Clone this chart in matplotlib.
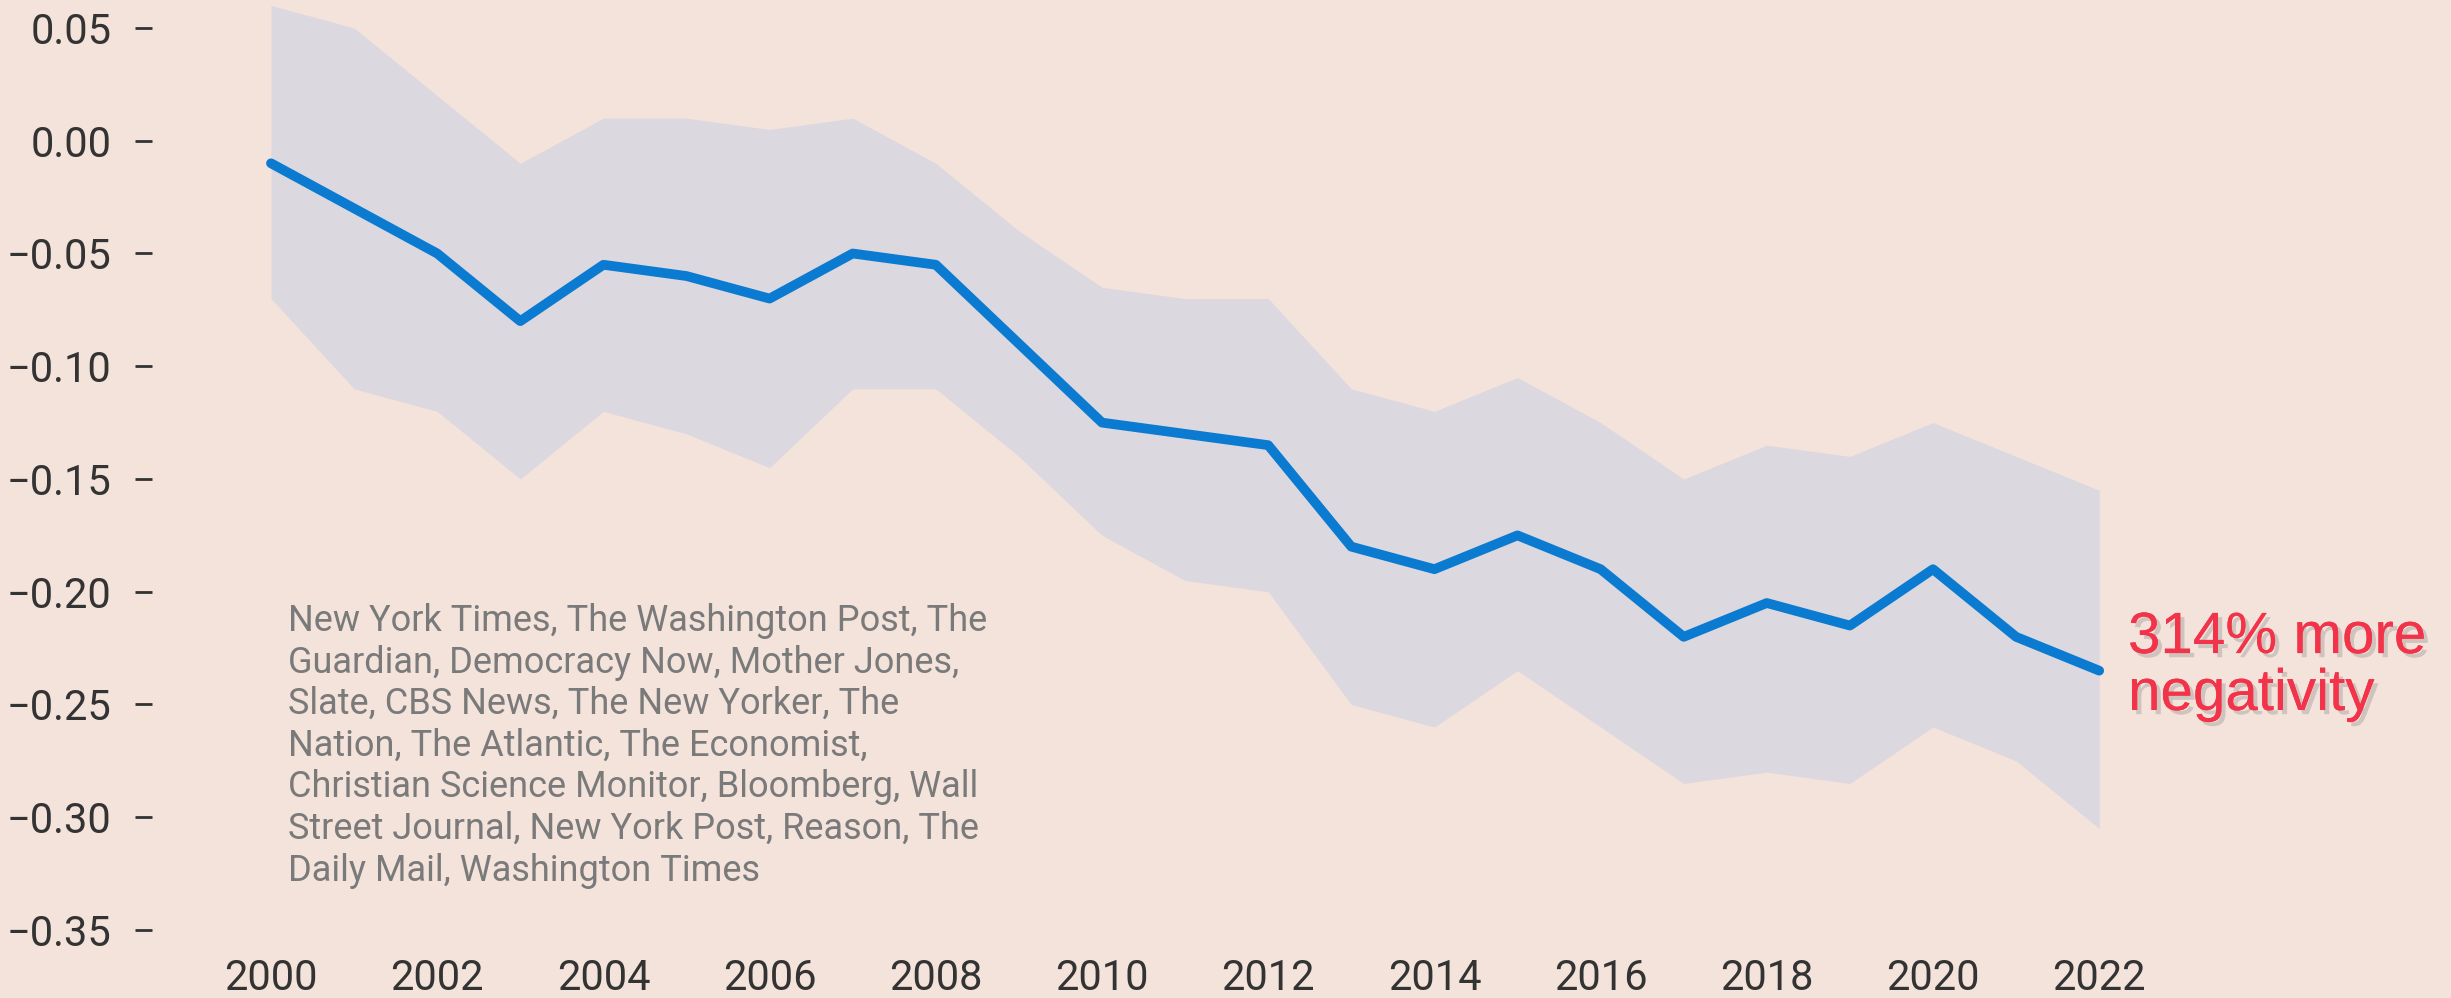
import matplotlib
matplotlib.use("Agg")
import matplotlib.pyplot as plt
import matplotlib.patheffects as pe

# yearly negativity score: mean and spread band
years = list(range(2000, 2023))
mean_score = [-0.01, -0.03, -0.05, -0.08, -0.055, -0.06, -0.07, -0.05, -0.055, -0.09,
              -0.125, -0.13, -0.135, -0.18, -0.19, -0.175, -0.19, -0.22, -0.205, -0.215,
              -0.19, -0.22, -0.235]
upper_band = [0.06, 0.05, 0.02, -0.01, 0.01, 0.01, 0.005, 0.01, -0.01, -0.04,
              -0.065, -0.07, -0.07, -0.11, -0.12, -0.105, -0.125, -0.15, -0.135, -0.14,
              -0.125, -0.14, -0.155]
lower_band = [-0.07, -0.11, -0.12, -0.15, -0.12, -0.13, -0.145, -0.11, -0.11, -0.14,
              -0.175, -0.195, -0.2, -0.25, -0.26, -0.235, -0.26, -0.285, -0.28, -0.285,
              -0.26, -0.275, -0.305]
y_ticks = [0.05, 0.0, -0.05, -0.10, -0.15, -0.20, -0.25, -0.30, -0.35]
x_ticks = list(range(2000, 2023, 2))

outlets = ("New York Times, The Washington Post, The\n"
           "Guardian, Democracy Now, Mother Jones,\n"
           "Slate, CBS News, The New Yorker, The\n"
           "Nation, The Atlantic, The Economist,\n"
           "Christian Science Monitor, Bloomberg, Wall\n"
           "Street Journal, New York Post, Reason, The\n"
           "Daily Mail, Washington Times")
callout = "314% more\nnegativity"

bg = "#f3e3db"
W, H = 2451, 998
fig = plt.figure(figsize=(W / 100, H / 100), dpi=100, facecolor=bg)
ax = fig.add_axes([152 / W, (H - 930) / H, 1 - 152 / W, 930 / H])
ax.set_facecolor(bg)

ax.fill_between(years, lower_band, upper_band, color="#dcd8df", lw=0)
ax.plot(years, mean_score, color="#0a7bd0", lw=7, solid_capstyle="round", solid_joinstyle="round")

px_per_year = 83.1
ax.set_xlim(2000 - (271 - 152) / px_per_year, 2000 + (W - 271) / px_per_year)
ax.set_ylim(-0.35, 0.05 + 28 / 112.8 * 0.05)

for s in ax.spines.values():
    s.set_visible(False)

ax.set_yticks(y_ticks)
ax.set_yticklabels([f"{v:.2f}".replace("-", "\u2212") for v in y_ticks])
ax.set_xticks(x_ticks)
ax.set_xticklabels([str(x) for x in x_ticks])
ax.tick_params(axis="y", length=12, width=2, color="#333333", pad=17,
               labelsize=30, labelcolor="#333333")
ax.tick_params(axis="x", length=0, pad=20, labelsize=30, labelcolor="#333333")
for lab in ax.get_xticklabels() + ax.get_yticklabels():
    lab.set_fontfamily("Roboto")

fig.text(288 / W, 1 - 603 / H, outlets, fontsize=26, color="#7a7a7a",
         family="Roboto", va="top", ha="left", linespacing=1.2)

fig.text(2128 / W, 1 - 710 / H, callout, fontsize=42, color="#f2334a",
         family="Liberation Sans", va="baseline", ha="left", linespacing=1.07,
         path_effects=[pe.withSimplePatchShadow(offset=(3, -3), shadow_rgbFace="#666666", alpha=0.25),
                       pe.Normal()])

fig.savefig("out.png", dpi=100, facecolor=bg)
